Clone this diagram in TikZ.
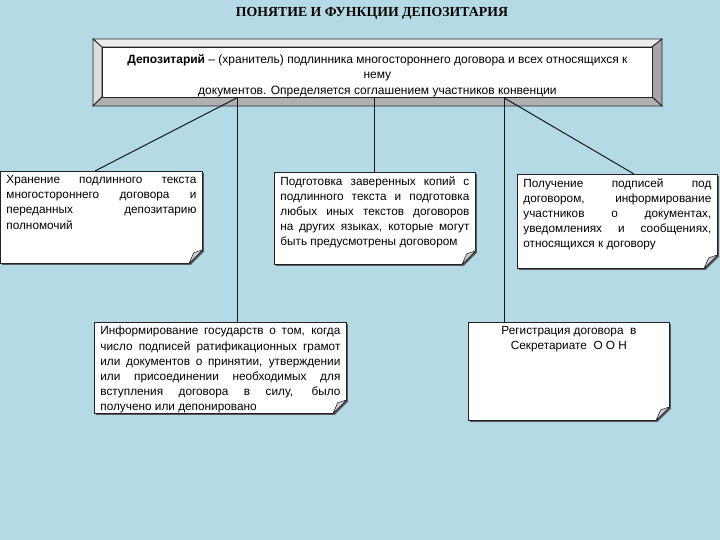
\documentclass[tikz,border=0pt]{standalone}
\usepackage{fontspec}
\setmainfont{Liberation Sans}
\newfontfamily\titlefont{Liberation Serif}
\usetikzlibrary{shadows}
\definecolor{bg}{RGB}{180,219,229}
\definecolor{edge}{RGB}{35,35,35}
\definecolor{lineclr}{RGB}{15,25,35}
\definecolor{bevtop}{RGB}{236,236,236}
\definecolor{bevleft}{RGB}{220,220,220}
\definecolor{bevright}{RGB}{166,166,166}
\definecolor{bevbot}{RGB}{176,176,176}
\newcommand{\notebody}[3]{\parbox[c][#2][t]{#1}{#3}}
\newcommand{\foldcorner}[1]{%
  \coordinate (#1-a) at ([xshift=-14pt]#1.south east);
  \coordinate (#1-b) at ([yshift=14pt]#1.south east);
  \fill[bg] ([xshift=-14pt,yshift=-0.6pt]#1.south east) -- ([xshift=3pt,yshift=-3pt]#1.south east) -- ([xshift=0.6pt,yshift=14pt]#1.south east) -- cycle;
  \draw[black!65,line width=2pt] ([xshift=0.8pt,yshift=-0.8pt]#1-a) -- ([xshift=0.8pt,yshift=-0.8pt]#1-b);
  \draw[edge,line width=0.8pt] (#1-a) -- (#1-b);
  \filldraw[draw=edge,fill=gray!35,line width=0.6pt,line join=round] (#1-a) .. controls ([xshift=-11pt,yshift=6pt]#1.south east) .. ([xshift=-9pt,yshift=11pt]#1.south east) -- (#1-b) -- cycle;
}
\tikzset{
  notebox/.style={draw=edge, fill=white, line width=0.8pt, inner xsep=6pt, inner ysep=4pt,
    anchor=north west, drop shadow={shadow xshift=2pt, shadow yshift=-2pt, fill=black!65, opacity=1},
    font=\fontsize{11.8}{15.2}\selectfont},
  conn/.style={draw=lineclr, line width=1pt},
  bevel/.style={draw=edge, line width=0.8pt, line join=miter},
}
\begin{document}
\begin{tikzpicture}[x=1pt,y=-1pt]
\fill[bg] (0,0) rectangle (720,540);
\useasboundingbox (0,0) rectangle (720,540);

% title
\node (title) at (372,13) {\titlefont\bfseries\fontsize{13.8}{15}\selectfont ПОНЯТИЕ И ФУНКЦИИ ДЕПОЗИТАРИЯ};

% bevelled top box
\filldraw[bevel, fill=bevtop] (93,39) -- (662,39) -- (652,47) -- (102,47) -- cycle;
\filldraw[bevel, fill=bevleft] (93,39) -- (102,47) -- (102,97) -- (93,106) -- cycle;
\filldraw[bevel, fill=bevright] (662,39) -- (662,106) -- (652,97) -- (652,47) -- cycle;
\filldraw[bevel, fill=bevbot] (93,106) -- (102,97) -- (652,97) -- (662,106) -- cycle;
\node[draw=edge, fill=white, line width=0.8pt, inner sep=0pt, anchor=north west,
  font=\fontsize{12}{15.5}\selectfont] (dep) at (102,47)
  {\parbox[c][50pt][c]{550pt}{\centering\vspace*{6pt}%
  \textbf{Депозитарий} – (хранитель) подлинника многостороннего договора и всех относящихся к\\нему\\документов. Определяется соглашением участников конвенции\par}};

% notes
\node[notebox] (store) at (0,171) {\notebody{190pt}{84pt}{%
Хранение подлинного текста\linebreak
многостороннего договора и\linebreak
переданных депозитарию\linebreak
полномочий}};
\foldcorner{store}

\node[notebox] (prep) at (274,172) {\notebody{189pt}{84pt}{%
Подготовка заверенных копий с\linebreak
подлинного текста и подготовка\linebreak
любых иных текстов договоров\linebreak
на других языках, которые могут\linebreak
быть предусмотрены договором}};
\foldcorner{prep}

\node[notebox] (sign) at (517,174) {\notebody{188pt}{86pt}{%
Получение подписей под\linebreak
договором, информирование\linebreak
участников о документах,\linebreak
уведомлениях и сообщениях,\linebreak
относящихся к договору}};
\foldcorner{sign}

\node[notebox] (inform) at (94,322) {\notebody{240pt}{83pt}{%
Информирование государств о том, когда\linebreak
число подписей ратификационных грамот\linebreak
или документов о принятии, утверждении\linebreak
или присоединении необходимых для\linebreak
вступления договора в силу, было\linebreak
получено или депонировано}};
\foldcorner{inform}

\node[notebox] (reg) at (468,322) {\notebody{189pt}{90pt}{\centering
Регистрация договора~ в\\
Секретариате~ О~О~Н}};
\foldcorner{reg}

% connectors
\coordinate (dl) at ([xshift=135pt]dep.south west);
\coordinate (dc) at ([xshift=272pt]dep.south west);
\coordinate (dr) at ([xshift=402pt]dep.south west);
\draw[conn] (dl) -- ([xshift=95pt]store.north west);
\draw[conn] (dl) -- (dl |- inform.north);
\draw[conn] (dc) -- (dc |- prep.north);
\draw[conn] (dr) -- (dr |- reg.north);
\draw[conn] (dr) -- ([xshift=117pt]sign.north west);
\end{tikzpicture}
\end{document}
